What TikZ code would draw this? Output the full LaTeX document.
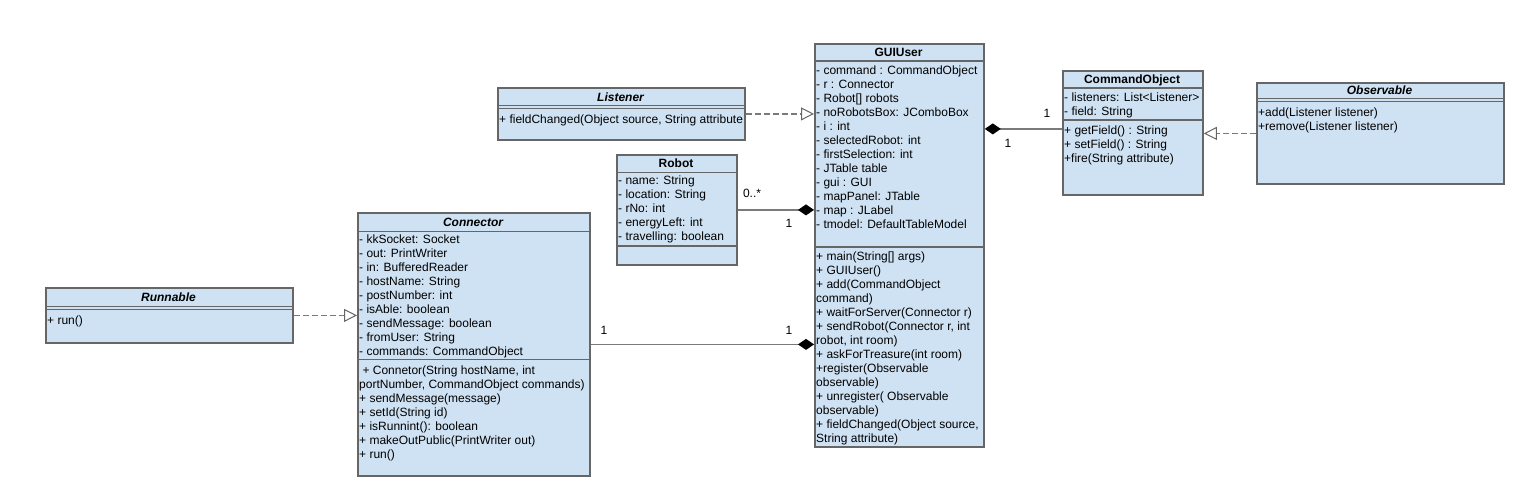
\documentclass[tikz,border=0pt]{standalone}
\usepackage{fontspec}
\setmainfont{Liberation Sans}
\usetikzlibrary{arrows.meta}
\definecolor{umlfill}{HTML}{CFE2F3}
\definecolor{umlborder}{HTML}{666666}
\definecolor{umlline}{HTML}{7A7A7A}
\tikzset{
  classbox/.style={draw=umlborder, fill=umlfill, line width=1.8pt, anchor=north west, inner sep=0pt},
  compart/.style={draw=umlborder, line width=1.8pt},
  classname/.style={font=\fontsize{12}{14}\selectfont\bfseries, inner sep=0pt, text height=9pt, text depth=0pt},
  abstractname/.style={classname, font=\fontsize{12}{14}\selectfont\bfseries\itshape},
  members/.style={anchor=north west, align=left, inner sep=0pt, font=\fontsize{12}{14}\selectfont},
  mult/.style={font=\fontsize{12}{14}\selectfont, inner sep=0pt, text height=9pt, text depth=0pt},
  realize/.style={draw=umlline, line width=1.7pt, dash pattern=on 6pt off 3pt,
    -{Triangle[length=13pt, width=13pt, fill=white, color=umlborder, line width=1pt]}},
  compose/.style={draw=umlline, line width=1.7pt,
    -{Diamond[length=16pt, width=11pt, fill=black, color=black]}},
}
\begin{document}
\begin{tikzpicture}[x=1pt, y=-1pt]
  \useasboundingbox (0,0) rectangle (1525,496);
  % GUIUser
  \node[classbox, minimum width=169, minimum height=403] (gui) at (814,43) {};
  \draw[compart] (814,61) -- (983,61);
  \draw[compart] (814,247) -- (983,247);
  \node[classname] (gui-name) at (898.5,52) {GUIUser};
  \node[members] (gui-attr) at (816,64) {\strut- command : CommandObject\\
    - r : Connector\\
    - Robot[] robots\\
    - noRobotsBox: JComboBox\\
    - i : int\\
    - selectedRobot: int\\
    - firstSelection: int\\
    - JTable table\\
    - gui : GUI\\
    - mapPanel: JTable\\
    - map : JLabel\\
    - tmodel: DefaultTableModel};
  \node[members] (gui-meth) at (816,250) {\strut+ main(String[] args)\\
    + GUIUser()\\
    + add(CommandObject\\
    command)\\
    + waitForServer(Connector r)\\
    + sendRobot(Connector r, int\\
    robot, int room)\\
    + askForTreasure(int room)\\
    +register(Observable\\
    observable)\\
    + unregister( Observable\\
    observable)\\
    + fieldChanged(Object source,\\
    String attribute)};
  % Listener
  \node[classbox, minimum width=247, minimum height=52] (lis) at (497,87) {};
  \draw[compart] (497,105.5) -- (744,105.5);
  \draw[compart] (497,108.5) -- (744,108.5);
  \node[abstractname] (lis-name) at (620.5,97) {Listener};
  \node[members] (lis-meth) at (499,113) {\strut+ fieldChanged(Object source, String attribute};
  % Robot
  \node[classbox, minimum width=120, minimum height=110] (robot) at (616,154) {};
  \draw[compart] (616,172.5) -- (736,172.5);
  \draw[compart] (616,246) -- (736,246);
  \node[classname] (robot-name) at (676,163) {Robot};
  \node[members] (robot-attr) at (618,174.5) {\strut- name: String\\
    - location: String\\
    - rNo: int\\
    - energyLeft: int\\
    - travelling: boolean};
  % Connector
  \node[classbox, minimum width=232, minimum height=263] (conn) at (357,212) {};
  \draw[compart] (357,231.5) -- (589,231.5);
  \draw[compart] (357,359.5) -- (589,359.5);
  \node[abstractname] (conn-name) at (473,222) {Connector};
  \node[members] (conn-attr) at (359,233.5) {\strut- kkSocket: Socket\\
    - out: PrintWriter\\
    - in: BufferedReader\\
    - hostName: String\\
    - postNumber: int\\
    - isAble: boolean\\
    - sendMessage: boolean\\
    - fromUser: String\\
    - commands: CommandObject};
  \node[members] (conn-meth) at (359,364) {\strut\ + Connetor(String hostName, int\\
    portNumber, CommandObject commands)\\
    + sendMessage(message)\\
    + setId(String id)\\
    + isRunnint(): boolean\\
    + makeOutPublic(PrintWriter out)\\
    + run()};
  % Runnable
  \node[classbox, minimum width=247, minimum height=55] (run) at (45,287) {};
  \draw[compart] (45,306.5) -- (292,306.5);
  \draw[compart] (45,309.5) -- (292,309.5);
  \node[abstractname] (run-name) at (168.5,297) {Runnable};
  \node[members] (run-meth) at (47,314) {\strut+ run()};
  % CommandObject
  \node[classbox, minimum width=140, minimum height=124] (cmd) at (1062,70) {};
  \draw[compart] (1062,88) -- (1202,88);
  \draw[compart] (1062,120) -- (1202,120);
  \node[classname] (cmd-name) at (1132,79) {CommandObject};
  \node[members] (cmd-attr) at (1064,91) {\strut- listeners: List<Listener>\\
    - field: String};
  \node[members] (cmd-meth) at (1064,124) {\strut+ getField() : String\\
    + setField() : String\\
    +fire(String attribute)};
  % Observable
  \node[classbox, minimum width=247, minimum height=101] (obs) at (1256,82) {};
  \draw[compart] (1256,98.5) -- (1503,98.5);
  \draw[compart] (1256,101.5) -- (1503,101.5);
  \node[abstractname] (obs-name) at (1379.5,90) {Observable};
  \node[members] (obs-meth) at (1258,106) {\strut+add(Listener listener)\\
    +remove(Listener listener)};
  % realizations
  \draw[realize] (lis.east) -- (lis.east -| gui.west);
  \draw[realize] (run.east) -- (run.east -| conn.west);
  \draw[realize] (obs.west) -- (obs.west -| cmd.east);
  % compositions
  \draw[compose] (robot.east) -- (robot.east -| gui.west);
  \draw[compose] (conn.east) -- (conn.east -| gui.west);
  \draw[compose] ([yshift=4pt]cmd.west) -- ([yshift=4pt]cmd.west -| gui.east);
  % multiplicities
  \node[mult] (robot-many) at (752,193) {0..*};
  \node[mult] (robot-one) at (789,223) {1};
  \node[mult] (conn-one) at (604,330) {1};
  \node[mult] (conn-gui-one) at (789,330) {1};
  \node[mult] (cmd-one) at (1047,113) {1};
  \node[mult] (cmd-gui-one) at (1008,143) {1};
\end{tikzpicture}
\end{document}
